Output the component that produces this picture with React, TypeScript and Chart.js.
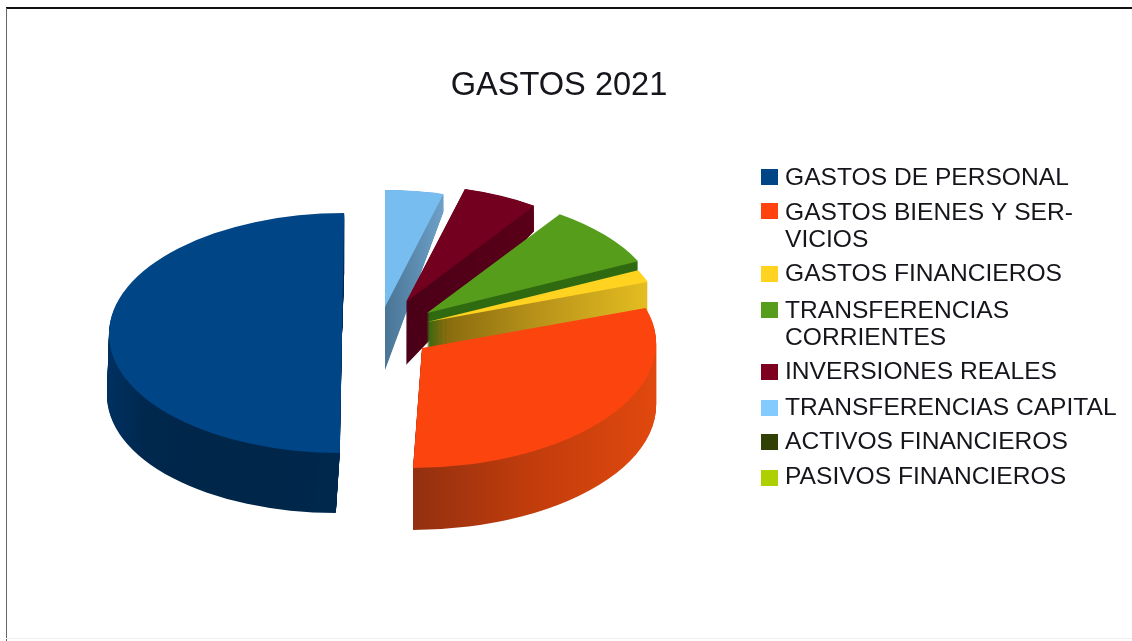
import React, { useEffect, useRef } from "react";
import { Chart, registerables } from "chart.js";

Chart.register(...registerables);

const chartTitle = "GASTOS 2021";
const categories = [
  "GASTOS DE PERSONAL",
  "GASTOS BIENES Y SERVICIOS",
  "GASTOS FINANCIEROS",
  "TRANSFERENCIAS CORRIENTES",
  "INVERSIONES REALES",
  "TRANSFERENCIAS CAPITAL",
  "ACTIVOS FINANCIEROS",
  "PASIVOS FINANCIEROS",
];
const shares = [50, 30.4, 1.7, 8.3, 5.4, 4.2, 0, 0];
const colors = ["#004586", "#ff420e", "#ffd320", "#579d1c", "#7e0021", "#83caff", "#314004", "#aecf00"];
const topFaceColors = ["#004586", "#fb440e", "#ffd320", "#579d1c", "#74001f", "#78bdf0", "#314004", "#aecf00"];

// Wrapped legend text, one list of lines per category
const legendLines = [
  ["GASTOS DE PERSONAL"],
  ["GASTOS BIENES Y SER-", "VICIOS"],
  ["GASTOS FINANCIEROS"],
  ["TRANSFERENCIAS", "CORRIENTES"],
  ["INVERSIONES REALES"],
  ["TRANSFERENCIAS CAPITAL"],
  ["ACTIVOS FINANCIEROS"],
  ["PASIVOS FINANCIEROS"],
];
const legendBaselines = [[185], [220, 247], [281], [318, 345], [379], [415], [449], [484]];
const legendSwatchTops = [169, 203, 266, 302, 364, 400, 434, 470];

// Where each exploded slice sits in the 3D-look picture (same order as categories)
const sliceGeometry = [
  { ax: 342, ay: 333, rx: 233, ry: 120, shear: -0.018, flare: -0.0167, depth: 60, taper: 0 },
  { ax: 422, ay: 348, rx: 234, ry: 120, shear: -0.075, flare: 0, depth: 62, taper: 0 },
  { ax: 427, ay: 322, rx: 234, ry: 120, shear: 0, flare: 0, depth: 40, taper: 0 },
  { ax: 427, ay: 313, rx: 234, ry: 120, shear: 0, flare: 0, depth: 40, taper: 0 },
  { ax: 406, ay: 302, rx: 226, ry: 117, shear: 0, flare: 0, depth: 63, taper: 0.39 },
  { ax: 385, ay: 307, rx: 224, ry: 117, shear: 0, flare: 0, depth: 63, taper: 0.4 },
  { ax: 400, ay: 300, rx: 234, ry: 120, shear: 0, flare: 0, depth: 0, taper: 0 },
  { ax: 400, ay: 300, rx: 234, ry: 120, shear: 0, flare: 0, depth: 0, taper: 0 },
];
const sideShades = [
  { x0: 109, x1: 343, stops: ["#003060", "#00284e", "#00264a", "#00264a", "#00264a", "#00264a", "#00284e"] },
  { x0: 413, x1: 656, stops: ["#8f2f10", "#c03c0c", "#e0480e"] },
  { x0: 427, x1: 647, stops: ["#80640c", "#b8921a", "#e3bd20"] },
  { x0: 427, x1: 635, stops: ["#2f6a10", "#2f6a10"] },
  { x0: 405, x1: 538, stops: ["#4a0018", "#5a0018"] },
  { x0: 385, x1: 443, stops: ["#4a7595", "#6da0c8"] },
  { x0: 400, x1: 500, stops: ["#222", "#222"] },
  { x0: 400, x1: 500, stops: ["#222", "#222"] },
];

const pie3dPlugin = {
  id: "pie3d",
  beforeDatasetsDraw(chart: any) {
    const ctx = chart.ctx;
    const arcs = chart.getDatasetMeta(0).data;
    const n = categories.length;
    // the dataset is reversed, so elements run back-to-front across the picture
    for (let drawIndex = 0; drawIndex < n; drawIndex++) {
      const el = arcs[drawIndex];
      const i = n - 1 - drawIndex;
      const g = sliceGeometry[i];
      const R = el.outerRadius;
      const cx = el.x;
      const cy = el.y;
      const sx = g.rx / R;
      const sy = g.ry / R;
      const original = el.options;
      const shade = sideShades[i];
      const grad = ctx.createLinearGradient(cx + (shade.x0 - g.ax) / sx, 0, cx + (shade.x1 - g.ax) / sx, 0);
      shade.stops.forEach((c: string, k: number) => grad.addColorStop(k / (shade.stops.length - 1), c));
      for (let k = g.depth; k >= 0; k--) {
        const t = g.depth ? k / g.depth : 0;
        const syk = sy * (1 + g.taper * t);
        ctx.save();
        const kx = (g.shear + g.flare * t) * syk;
        const ox = g.ax + g.flare * t * g.ry;
        const oy = g.ay + k;
        ctx.transform(sx, 0, kx, syk, ox - sx * cx - kx * cy, oy - syk * cy);
        el.options = Object.assign({}, original, {
          backgroundColor: k === 0 ? topFaceColors[i] : grad,
          borderWidth: 0,
        });
        el.draw(ctx);
        ctx.restore();
      }
      el.options = original;
    }
    return false;
  },
  afterDraw(chart: any) {
    const ctx = chart.ctx;
    ctx.save();
    ctx.textBaseline = "alphabetic";
    ctx.textAlign = "left";
    ctx.font = '24.6px "Liberation Sans", Arial, sans-serif';
    categories.forEach((_, i) => {
      ctx.fillStyle = colors[i];
      ctx.fillRect(761, legendSwatchTops[i], 17, 16);
      ctx.fillStyle = "#15151c";
      legendLines[i].forEach((line, j) => ctx.fillText(line, 785, legendBaselines[i][j]));
    });
    ctx.restore();
  },
};

export default function App() {
  const ref = useRef<HTMLCanvasElement | null>(null);
  useEffect(() => {
    document.body.style.margin = "0";
    document.body.style.background = "#fff";
    const chart = new Chart(ref.current as HTMLCanvasElement, {
      type: "pie",
      data: {
        labels: [...categories].reverse(),
        datasets: [
          {
            data: [...shares].reverse(),
            backgroundColor: [...colors].reverse(),
            borderWidth: 0,
          },
        ],
      },
      options: {
        responsive: false,
        animation: false,
        events: [],
        layout: { padding: { right: 14 } },
        plugins: {
          legend: { display: false },
          tooltip: { enabled: false },
          title: {
            display: true,
            text: chartTitle,
            color: "#15151c",
            font: { family: '"Liberation Sans", Arial, sans-serif', size: 32.6, weight: "normal" },
            padding: { top: 66, bottom: 10 },
          },
        },
      },
      plugins: [pie3dPlugin],
    } as any);
    return () => chart.destroy();
  }, []);
  return (
    <div style={{ position: "relative", width: 1132, height: 641, overflow: "hidden", background: "#fff" }}>
      <canvas
        ref={ref}
        width={1132}
        height={641}
        style={{ position: "absolute", left: 0, top: 0, display: "block", filter: "blur(0.5px)" }}
      />
      <div style={{ position: "absolute", left: 6, top: 7, right: 0, height: 2, background: "#111" }} />
      <div style={{ position: "absolute", left: 6, top: 8, bottom: 0, width: 1, background: "#666" }} />
      <div style={{ position: "absolute", left: 6, right: 0, top: 638, height: 1, background: "#eee" }} />
    </div>
  );
}
